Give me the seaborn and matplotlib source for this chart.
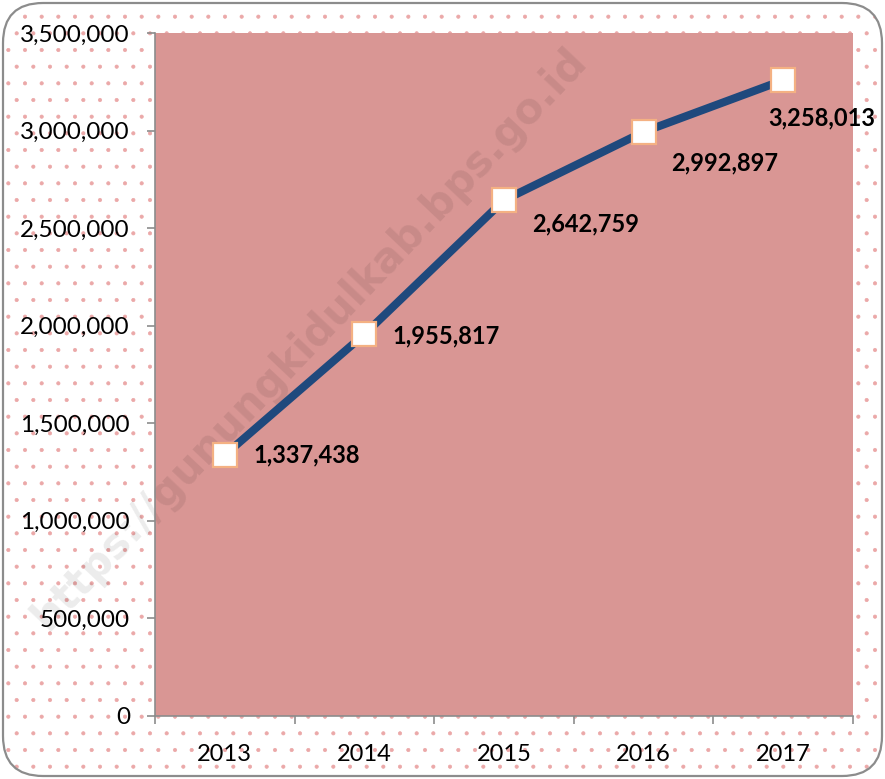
import matplotlib.pyplot as plt
import seaborn as sns
import numpy as np
import pandas as pd
from matplotlib.patches import FancyBboxPatch
from matplotlib.ticker import FuncFormatter, FixedLocator

sns.set_theme(style='white')
plt.rcParams['font.family'] = ['Lato', 'DejaVu Sans']
plt.rcParams['hatch.linewidth'] = 0.5

# Data
years = ['2013', '2014', '2015', '2016', '2017']
values = [1337438, 1955817, 2642759, 2992897, 3258013]

# label offsets (points) relative to each marker
label_offsets = [(21, 0), (20, -1), (20, -17), (20, -22), (-11, -27)]

PLOT_BG = '#D99694'
LINE = '#1F497D'
MARKER_EDGE = '#F4B183'
DOTS = '#EBA8A8'
GRID_GRAY = '#8C8C8C'

df = pd.DataFrame({'year': years, 'value': values})

fig = plt.figure(figsize=(8.85, 7.79), dpi=100)
ax = fig.add_axes([0.1751, 0.0809, 0.7887, 0.8768])

# dotted background with rounded border
bg = FancyBboxPatch((0.03, 0.03), 8.79, 7.73, boxstyle='round,pad=0,rounding_size=0.4',
                    transform=fig.dpi_scale_trans, facecolor='white', edgecolor=DOTS,
                    hatch='.', linewidth=0, zorder=-5)
border = FancyBboxPatch((0.03, 0.03), 8.79, 7.73, boxstyle='round,pad=0,rounding_size=0.4',
                        transform=fig.dpi_scale_trans, facecolor='none', edgecolor=GRID_GRAY,
                        linewidth=1.6, zorder=-4)
fig.patches.extend([bg, border])
fig.patch.set_alpha(0)

ax.set_facecolor(PLOT_BG)

sns.lineplot(data=df, x='year', y='value', ax=ax, color=LINE, linewidth=5.8,
             marker='s', markersize=17, markerfacecolor='white',
             markeredgecolor=MARKER_EDGE, markeredgewidth=1.6, zorder=3)

for i, (v, off) in enumerate(zip(values, label_offsets)):
    ax.annotate(f'{v:,}', (i, v), xytext=off, textcoords='offset points',
                ha='left', va='center', fontsize=17, fontweight='bold', color='black',
                zorder=4)

# watermark
ax.text(0.35, 0.565, 'https://gunungkidulkab.bps.go.id', transform=fig.transFigure,
        rotation=46.5, ha='center', va='center', fontsize=30, fontweight='bold',
        color='black', alpha=0.08, zorder=1, fontfamily='DejaVu Sans')

ax.set_xlim(-0.5, 4.5)
ax.set_ylim(0, 3500000)
ax.yaxis.set_major_locator(FixedLocator(np.arange(0, 3500001, 500000)))
ax.yaxis.set_major_formatter(FuncFormatter(lambda v, p: f'{int(v):,}'))
ax.xaxis.set_minor_locator(FixedLocator(np.arange(-0.5, 5, 1)))

ax.set_xlabel('')
ax.set_ylabel('')
ax.grid(False)

for s in ['top', 'right']:
    ax.spines[s].set_visible(False)
for s in ['left', 'bottom']:
    ax.spines[s].set_color(GRID_GRAY)
    ax.spines[s].set_linewidth(1.2)

ax.tick_params(axis='y', which='major', left=True, length=6, width=1.2, color=GRID_GRAY,
               labelsize=17.5, pad=12, labelcolor='black')
ax.tick_params(axis='x', which='major', bottom=False, length=0, labelsize=17, pad=20,
               labelcolor='black')
ax.tick_params(axis='x', which='minor', bottom=True, length=6, width=1.2, color=GRID_GRAY)

fig.savefig('out.png', dpi=100)
